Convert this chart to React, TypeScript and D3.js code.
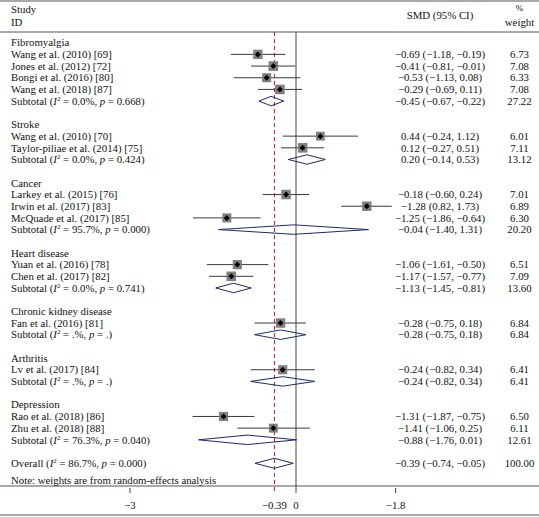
import React from "react";
import * as d3 from "d3";

// ---- data ----
const groupNames = [
  "Fibromyalgia",
  "Stroke",
  "Cancer",
  "Heart disease",
  "Chronic kidney disease",
  "Arthritis",
  "Depression",
];

const studyLabels = [
  "Wang et al. (2010) [69]",
  "Jones et al. (2012) [72]",
  "Bongi et al. (2016) [80]",
  "Wang et al. (2018) [87]",
  "Wang et al. (2010) [70]",
  "Taylor-piliae et al. (2014) [75]",
  "Larkey et al. (2015) [76]",
  "Irwin et al. (2017) [83]",
  "McQuade et al. (2017) [85]",
  "Yuan et al. (2016) [78]",
  "Chen et al. (2017) [82]",
  "Fan et al. (2016) [81]",
  "Lv et al. (2017) [84]",
  "Rao et al. (2018) [86]",
  "Zhu et al. (2018) [88]",
];
const studyGroup = [0, 0, 0, 0, 1, 1, 2, 2, 2, 3, 3, 4, 5, 6, 6];
const studyES = [-0.69, -0.41, -0.53, -0.29, 0.44, 0.12, -0.18, 1.28, -1.25, -1.06, -1.17, -0.28, -0.24, -1.31, -0.41];
const studyLo = [-1.18, -0.81, -1.13, -0.69, -0.24, -0.27, -0.6, 0.82, -1.86, -1.61, -1.57, -0.75, -0.82, -1.87, -1.06];
const studyHi = [-0.19, -0.01, 0.08, 0.11, 1.12, 0.51, 0.24, 1.73, -0.64, -0.5, -0.77, 0.18, 0.34, -0.75, 0.25];
const studyText = [
  "−0.69 (−1.18, −0.19)",
  "−0.41 (−0.81, −0.01)",
  "−0.53 (−1.13, 0.08)",
  "−0.29 (−0.69, 0.11)",
  "0.44 (−0.24, 1.12)",
  "0.12 (−0.27, 0.51)",
  "−0.18 (−0.60, 0.24)",
  "−1.28 (0.82, 1.73)",
  "−1.25 (−1.86, −0.64)",
  "−1.06 (−1.61, −0.50)",
  "−1.17 (−1.57, −0.77)",
  "−0.28 (−0.75, 0.18)",
  "−0.24 (−0.82, 0.34)",
  "−1.31 (−1.87, −0.75)",
  "−1.41 (−1.06, 0.25)",
];
const studyWeight = [6.73, 7.08, 6.33, 7.08, 6.01, 7.11, 7.01, 6.89, 6.3, 6.51, 7.09, 6.84, 6.41, 6.5, 6.11];

const subI2 = ["0.0%", "0.0%", "95.7%", "0.0%", ".%", ".%", "76.3%"];
const subP = ["0.668", "0.424", "0.000", "0.741", ".", ".", "0.040"];
const subES = [-0.45, 0.2, -0.04, -1.13, -0.28, -0.24, -0.88];
const subLo = [-0.67, -0.14, -1.4, -1.45, -0.75, -0.82, -1.76];
const subHi = [-0.22, 0.53, 1.31, -0.81, 0.18, 0.34, 0.01];
const subText = [
  "−0.45 (−0.67, −0.22)",
  "0.20 (−0.14, 0.53)",
  "−0.04 (−1.40, 1.31)",
  "−1.13 (−1.45, −0.81)",
  "−0.28 (−0.75, 0.18)",
  "−0.24 (−0.82, 0.34)",
  "−0.88 (−1.76, 0.01)",
];
const subWeight = ["27.22", "13.12", "20.20", "13.60", "6.84", "6.41", "12.61"];

const overallI2 = "86.7%";
const overallP = "0.000";
const overallES = -0.39;
const overallLo = -0.74;
const overallHi = -0.05;
const overallText = "−0.39 (−0.74, −0.05)";
const overallWeight = "100.00";

const tickValues = [-3, -0.39, 0, 1.8];
const tickLabels = ["−3", "−0.39", "0", "−1.8"];

// ---- layout ----
const W = 539;
const H = 517;
const FONT = "'Liberation Serif', 'Times New Roman', serif";
const FS = 10.8;
const ROW0 = 42.7;
const STEP = 11.68;
const LEFT_X = 11;
const CI_X = 440;
const WT_X = 519.5;
const HEADER_LINE = 32;
const AXIS_Y = 486;

type Row =
  | { kind: "group"; g: number }
  | { kind: "study"; i: number }
  | { kind: "sub"; g: number }
  | { kind: "overall" };

function buildRows(): Row[] {
  const rows: (Row | null)[] = [];
  groupNames.forEach((_, g) => {
    rows.push({ kind: "group", g });
    studyLabels.forEach((_, i) => {
      if (studyGroup[i] === g) rows.push({ kind: "study", i });
    });
    rows.push({ kind: "sub", g });
    rows.push(null);
  });
  rows.push({ kind: "overall" });
  return rows as Row[];
}

function HetLabel({ prefix, i2, p, x, y }: { prefix: string; i2: string; p: string; x: number; y: number }) {
  return (
    <text x={x} y={y} fontFamily={FONT} fontSize={FS} fill="#111">
      <tspan>{prefix} (</tspan>
      <tspan fontStyle="italic">I</tspan>
      <tspan fontSize={7} dy={-4}>2</tspan>
      <tspan dy={4}>{` = ${i2}, `}</tspan>
      <tspan fontStyle="italic">p</tspan>
      <tspan>{` = ${p})`}</tspan>
    </text>
  );
}

export default function App() {
  const x = d3.scaleLinear().domain([-3, 3]).range([130, 462]);
  const rows = buildRows();
  const yOf = (idx: number) => ROW0 + idx * STEP;
  const base = 3.7; // baseline offset from row center

  const diamond = (es: number, lo: number, hi: number, cy: number, h: number) => {
    const p = d3.path();
    p.moveTo(x(lo), cy);
    p.lineTo(x(es), cy - h / 2);
    p.lineTo(x(hi), cy);
    p.lineTo(x(es), cy + h / 2);
    p.closePath();
    return p.toString();
  };

  const elems: React.ReactNode[] = [];
  rows.forEach((r, idx) => {
    if (!r) return;
    const cy = r.kind === "overall" ? 463.3 : yOf(idx);
    if (r.kind === "group") {
      elems.push(
        <text key={`g${idx}`} x={LEFT_X} y={cy + base} fontFamily={FONT} fontSize={FS} fill="#111">
          {groupNames[r.g]}
        </text>
      );
    } else if (r.kind === "study") {
      const i = r.i;
      const side = 3.6 * Math.sqrt(studyWeight[i]);
      elems.push(
        <g key={`s${idx}`}>
          <text x={LEFT_X} y={cy + base} fontFamily={FONT} fontSize={FS} fill="#111">
            {studyLabels[i]}
          </text>
          <line x1={x(studyLo[i])} x2={x(studyHi[i])} y1={cy} y2={cy} stroke="#3a3a3a" strokeWidth={1} />
          <rect x={x(studyES[i]) - side / 2} y={cy - side / 2} width={side} height={side} fill="#808080" />
          <path
            d={`M${x(studyES[i]) - 3},${cy} L${x(studyES[i])},${cy - 3} L${x(studyES[i]) + 3},${cy} L${x(studyES[i])},${cy + 3} Z`}
            fill="#000"
          />
          <text x={CI_X} y={cy + base} textAnchor="middle" fontFamily={FONT} fontSize={FS} fill="#111">
            {studyText[i]}
          </text>
          <text x={WT_X} y={cy + base} textAnchor="middle" fontFamily={FONT} fontSize={FS} fill="#111">
            {studyWeight[i].toFixed(2)}
          </text>
        </g>
      );
    } else if (r.kind === "sub") {
      const g = r.g;
      elems.push(
        <g key={`t${idx}`}>
          <HetLabel prefix="Subtotal" i2={subI2[g]} p={subP[g]} x={LEFT_X} y={cy + base} />
          <path d={diamond(subES[g], subLo[g], subHi[g], cy, 9.5)} fill="none" stroke="#1c2a6b" strokeWidth={1} />
          <text x={CI_X} y={cy + base} textAnchor="middle" fontFamily={FONT} fontSize={FS} fill="#111">
            {subText[g]}
          </text>
          <text x={WT_X} y={cy + base} textAnchor="middle" fontFamily={FONT} fontSize={FS} fill="#111">
            {subWeight[g]}
          </text>
        </g>
      );
    } else {
      elems.push(
        <g key="overall">
          <HetLabel prefix="Overall" i2={overallI2} p={overallP} x={LEFT_X} y={cy + base} />
          <path d={diamond(overallES, overallLo, overallHi, cy, 10)} fill="none" stroke="#1c2a6b" strokeWidth={1} />
          <text x={CI_X} y={cy + base} textAnchor="middle" fontFamily={FONT} fontSize={FS} fill="#111">
            {overallText}
          </text>
          <text x={WT_X} y={cy + base} textAnchor="middle" fontFamily={FONT} fontSize={FS} fill="#111">
            {overallWeight}
          </text>
        </g>
      );
    }
  });

  return (
    <svg
      width={W}
      height={H}
      style={{ position: "absolute", left: 0, top: 0, background: "#fff" }}
    >
      <rect width={W} height={H} fill="#fff" />
      {/* frame lines */}
      <line x1={0} x2={W} y1={1} y2={1} stroke="#555" strokeWidth={1.2} />
      <line x1={0} x2={W} y1={HEADER_LINE} y2={HEADER_LINE} stroke="#555" strokeWidth={1.2} />
      <line x1={0} x2={W} y1={AXIS_Y} y2={AXIS_Y} stroke="#555" strokeWidth={1.2} />
      <line x1={0} x2={W} y1={515} y2={515} stroke="#555" strokeWidth={1.2} />

      {/* header */}
      <text x={LEFT_X} y={9.3 + base} fontFamily={FONT} fontSize={FS} fill="#111">Study</text>
      <text x={LEFT_X} y={22 + base} fontFamily={FONT} fontSize={FS} fill="#111">ID</text>
      <text x={CI_X} y={15.7 + base} textAnchor="middle" fontFamily={FONT} fontSize={FS} fill="#111">SMD (95% CI)</text>
      <text x={WT_X} y={7 + base} textAnchor="middle" fontFamily={FONT} fontSize={9} fill="#111">%</text>
      <text x={WT_X} y={22 + base} textAnchor="middle" fontFamily={FONT} fontSize={FS} fill="#111">weight</text>

      {/* reference lines */}
      <line x1={x(0)} x2={x(0)} y1={HEADER_LINE} y2={AXIS_Y + 7} stroke="#444" strokeWidth={1} />
      <line
        x1={x(overallES)}
        x2={x(overallES)}
        y1={HEADER_LINE}
        y2={AXIS_Y + 7}
        stroke="#b22222"
        strokeWidth={1}
        strokeDasharray="4,3"
      />

      {elems}

      <text x={LEFT_X} y={480 + base} fontFamily={FONT} fontSize={FS} fill="#111">
        Note: weights are from random-effects analysis
      </text>

      {/* axis ticks */}
      {tickValues.map((v, i) => (
        <g key={`tk${i}`}>
          {v !== 0 && v !== overallES && (
            <line x1={x(v)} x2={x(v)} y1={AXIS_Y + 2} y2={AXIS_Y + 7} stroke="#444" strokeWidth={1} />
          )}
          <text x={x(v)} y={505 + base} textAnchor="middle" fontFamily={FONT} fontSize={FS} fill="#111">
            {tickLabels[i]}
          </text>
        </g>
      ))}
    </svg>
  );
}
